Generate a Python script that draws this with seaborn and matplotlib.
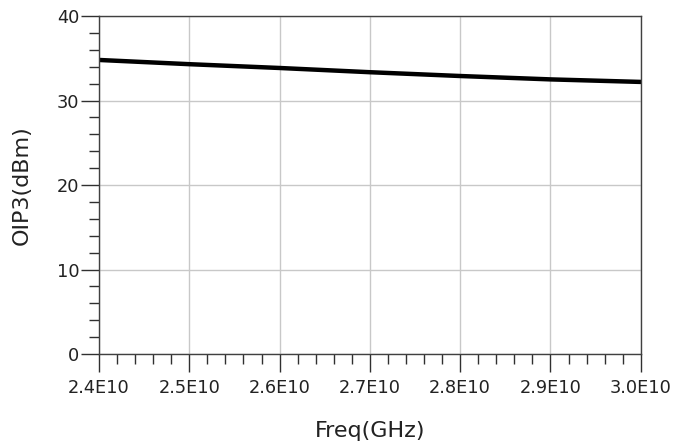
import numpy as np
import matplotlib
matplotlib.use('Agg')
import matplotlib.pyplot as plt
import seaborn as sns
from matplotlib.ticker import MultipleLocator, FuncFormatter

# OIP3 vs frequency
freq = [2.4e10, 2.5e10, 2.6e10, 2.7e10, 2.8e10, 2.9e10, 3.0e10]
oip3 = [34.8, 34.3, 33.85, 33.35, 32.9, 32.5, 32.2]

sns.set_theme(style='white')
plt.rcParams['font.family'] = ['DejaVu Sans']

fig = plt.figure(figsize=(6.92, 4.45), dpi=100)
ax = fig.add_axes([0.143, 0.2045, 0.783, 0.7595])

sns.lineplot(x=freq, y=oip3, ax=ax, color='black', linewidth=3.2)

ax.set_xlim(2.4e10, 3.0e10)
ax.set_ylim(0, 40)
ax.xaxis.set_major_locator(MultipleLocator(0.1e10))
ax.xaxis.set_minor_locator(MultipleLocator(0.02e10))
ax.yaxis.set_major_locator(MultipleLocator(10))
ax.yaxis.set_minor_locator(MultipleLocator(2))
ax.xaxis.set_major_formatter(FuncFormatter(lambda v, p: f'{v/1e10:.1f}E10'))

ax.grid(True, which='major', color='#c8c8c8', linewidth=1)
for s in ax.spines.values():
    s.set_color('#404040')
    s.set_linewidth(1)

ax.tick_params(which='major', direction='out', length=13, width=1,
               color='#303030', labelsize=12.8, labelcolor='#222222', bottom=True, left=True)
ax.tick_params(which='minor', direction='out', length=7, width=1,
               color='#303030', bottom=True, left=True)
ax.tick_params(axis='y', which='major', pad=1)
ax.tick_params(axis='x', which='major', pad=5)

ax.set_xlabel('Freq(GHz)', fontsize=16, color='#222222', labelpad=17)
ax.set_ylabel('OIP3(dBm)', fontsize=16, color='#222222', labelpad=18)

fig.savefig('out.png', dpi=100)
